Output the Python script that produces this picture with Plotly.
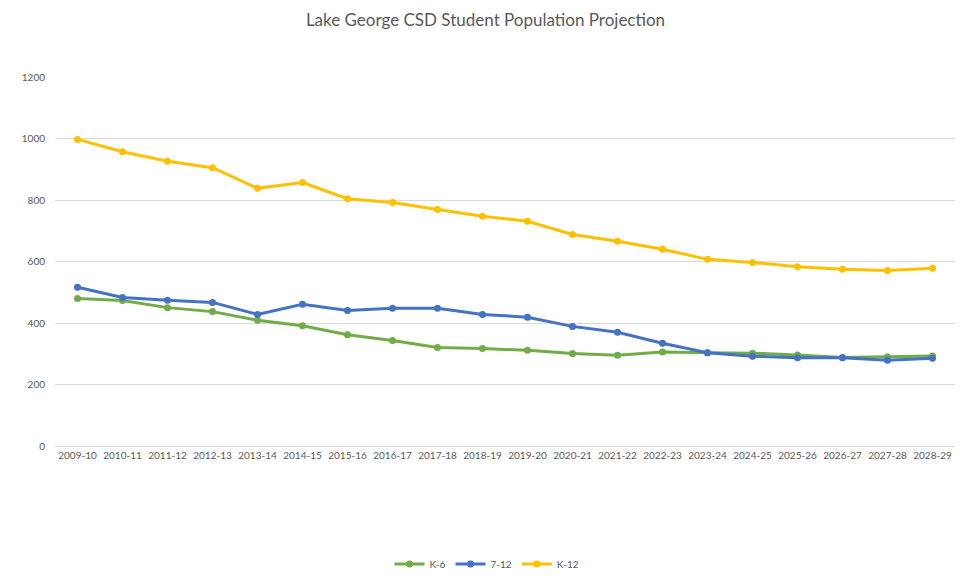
import plotly.graph_objects as go

years = ["2009-10", "2010-11", "2011-12", "2012-13", "2013-14", "2014-15", "2015-16",
         "2016-17", "2017-18", "2018-19", "2019-20", "2020-21", "2021-22", "2022-23",
         "2023-24", "2024-25", "2025-26", "2026-27", "2027-28", "2028-29"]
k6 = [480, 473, 450, 437, 409, 391, 362, 343, 320, 317, 311, 301, 295, 306, 303, 302, 296, 288, 290, 293]
g7_12 = [516, 483, 474, 467, 428, 461, 441, 448, 448, 428, 419, 389, 370, 334, 303, 292, 287, 287, 279, 285]
k12 = [997, 957, 926, 905, 838, 857, 804, 792, 769, 747, 731, 688, 666, 640, 607, 597, 583, 575, 571, 578]

series = [("K-6", k6, "#70AD47"), ("7-12", g7_12, "#4472C4"), ("K-12", k12, "#FFC000")]

fig = go.Figure()
for name, vals, color in series:
    fig.add_trace(go.Scatter(
        x=list(range(len(years))), y=vals, name=name, mode="lines+markers",
        line=dict(color=color, width=3), marker=dict(color=color, size=7),
    ))

W, H = 961, 574
fig.update_layout(
    width=W, height=H,
    paper_bgcolor="white", plot_bgcolor="white",
    margin=dict(l=47, r=14, t=69, b=136, autoexpand=False),
    font=dict(family="Lato, Open Sans, sans-serif", color="#595959", size=10),
    title=dict(text="Lake George CSD Student Population Projection", x=477.5 / W,
               xanchor="center", xref="container", y=1 - 12 / H, yanchor="middle",
               font=dict(size=17, color="#595959")),
    showlegend=True,
    legend=dict(orientation="h", x=0.48, xanchor="center", y=-0.32, yanchor="middle",
                font=dict(size=10, color="#595959"), itemwidth=30),
    xaxis=dict(tickmode="array", tickvals=list(range(len(years))), ticktext=years,
               range=[-0.5, len(years) - 0.5], showgrid=False, zeroline=False,
               showline=True, linecolor="#d9d9d9", linewidth=1, ticks="",
               tickfont=dict(size=10, color="#595959")),
    yaxis=dict(range=[0, 1200], dtick=200, tick0=0, showgrid=True, gridcolor="#d9d9d9",
               gridwidth=1, zeroline=False, showline=False, ticks="",
               ticklabelstandoff=9, tickfont=dict(size=10, color="#595959")),
)

fig.write_html("out.html")
